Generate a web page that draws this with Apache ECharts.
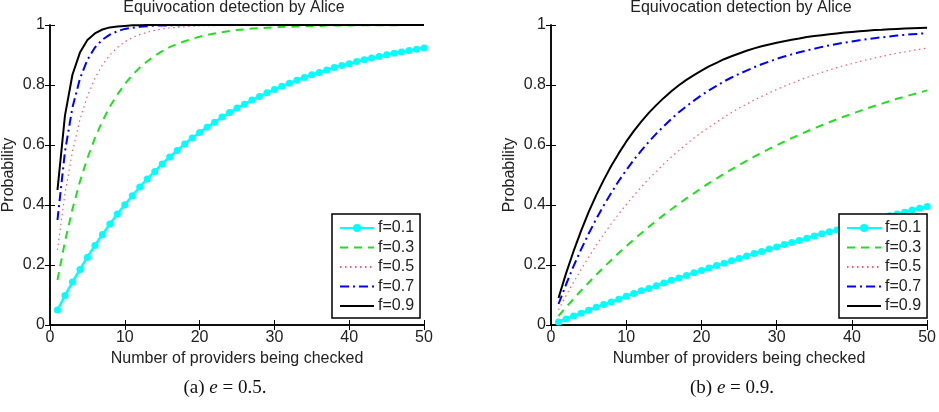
<!DOCTYPE html>
<html>
<head>
<meta charset="utf-8">
<title>Equivocation detection by Alice</title>
<script src="https://cdn.jsdelivr.net/npm/echarts@6/dist/echarts.min.js"></script>
<style>
  html, body { margin: 0; padding: 0; background: #fff; }
  #chart { width: 939px; height: 412px; }
</style>
</head>
<body>
<div id="chart"></div>
<script>
// x: number of providers being checked
const providers = [1, 2, 3, 4, 5, 6, 7, 8, 9, 10, 11, 12, 13, 14, 15, 16, 17, 18, 19, 20,
  21, 22, 23, 24, 25, 26, 27, 28, 29, 30, 31, 32, 33, 34, 35, 36, 37, 38, 39, 40,
  41, 42, 43, 44, 45, 46, 47, 48, 49, 50]

const fNames = ['f=0.1', 'f=0.3', 'f=0.5', 'f=0.7', 'f=0.9']
const xTicks = [0, 10, 20, 30, 40, 50]
const yTicks = [0, 0.2, 0.4, 0.6, 0.8, 1]

// (a) e = 0.5
const e05f01 = [0.050, 0.098, 0.143, 0.185, 0.226, 0.265, 0.302, 0.337, 0.370, 0.401,
  0.431, 0.460, 0.487, 0.512, 0.537, 0.560, 0.582, 0.603, 0.623, 0.642,
  0.659, 0.676, 0.693, 0.708, 0.723, 0.736, 0.750, 0.762, 0.774, 0.785,
  0.796, 0.806, 0.816, 0.825, 0.834, 0.842, 0.850, 0.858, 0.865, 0.871,
  0.878, 0.884, 0.890, 0.895, 0.901, 0.906, 0.910, 0.915, 0.919, 0.923]
const e05f03 = [0.150, 0.278, 0.386, 0.478, 0.556, 0.623, 0.679, 0.728, 0.768, 0.803,
  0.833, 0.858, 0.879, 0.897, 0.913, 0.926, 0.937, 0.946, 0.954, 0.961,
  0.967, 0.972, 0.976, 0.980, 0.983, 0.985, 0.988, 0.989, 0.991, 0.992,
  0.994, 0.994, 0.995, 0.996, 0.997, 0.997, 0.998, 0.998, 0.998, 0.998,
  0.999, 0.999, 0.999, 0.999, 0.999, 0.999, 1.000, 1.000, 1.000, 1.000]
const e05f05 = [0.250, 0.438, 0.578, 0.684, 0.763, 0.822, 0.867, 0.900, 0.925, 0.944,
  0.958, 0.968, 0.976, 0.982, 0.987, 0.990, 0.992, 0.994, 0.996, 0.997,
  0.998, 0.998, 0.999, 0.999, 0.999, 0.999, 1.000, 1.000, 1.000, 1.000,
  1.000, 1.000, 1.000, 1.000, 1.000, 1.000, 1.000, 1.000, 1.000, 1.000,
  1.000, 1.000, 1.000, 1.000, 1.000, 1.000, 1.000, 1.000, 1.000, 1.000]
const e05f07 = [0.350, 0.578, 0.725, 0.821, 0.884, 0.925, 0.951, 0.968, 0.979, 0.987,
  0.991, 0.994, 0.996, 0.998, 0.998, 0.999, 0.999, 1.000, 1.000, 1.000,
  1.000, 1.000, 1.000, 1.000, 1.000, 1.000, 1.000, 1.000, 1.000, 1.000,
  1.000, 1.000, 1.000, 1.000, 1.000, 1.000, 1.000, 1.000, 1.000, 1.000,
  1.000, 1.000, 1.000, 1.000, 1.000, 1.000, 1.000, 1.000, 1.000, 1.000]
const e05f09 = [0.450, 0.698, 0.834, 0.908, 0.950, 0.972, 0.985, 0.992, 0.995, 0.997,
  0.999, 0.999, 1.000, 1.000, 1.000, 1.000, 1.000, 1.000, 1.000, 1.000,
  1.000, 1.000, 1.000, 1.000, 1.000, 1.000, 1.000, 1.000, 1.000, 1.000,
  1.000, 1.000, 1.000, 1.000, 1.000, 1.000, 1.000, 1.000, 1.000, 1.000,
  1.000, 1.000, 1.000, 1.000, 1.000, 1.000, 1.000, 1.000, 1.000, 1.000]

// (b) e = 0.9
const e09f01 = [0.010, 0.020, 0.030, 0.039, 0.049, 0.059, 0.068, 0.077, 0.086, 0.096,
  0.105, 0.114, 0.122, 0.131, 0.140, 0.149, 0.157, 0.165, 0.174, 0.182,
  0.190, 0.198, 0.206, 0.214, 0.222, 0.230, 0.238, 0.245, 0.253, 0.260,
  0.268, 0.275, 0.282, 0.289, 0.297, 0.304, 0.311, 0.317, 0.324, 0.331,
  0.338, 0.344, 0.351, 0.357, 0.364, 0.370, 0.376, 0.383, 0.389, 0.395]
const e09f03 = [0.030, 0.059, 0.087, 0.115, 0.141, 0.167, 0.192, 0.216, 0.240, 0.263,
  0.285, 0.306, 0.327, 0.347, 0.367, 0.386, 0.404, 0.422, 0.439, 0.456,
  0.473, 0.488, 0.504, 0.519, 0.533, 0.547, 0.561, 0.574, 0.587, 0.599,
  0.611, 0.623, 0.634, 0.645, 0.656, 0.666, 0.676, 0.686, 0.695, 0.704,
  0.713, 0.722, 0.730, 0.738, 0.746, 0.754, 0.761, 0.768, 0.775, 0.782]
const e09f05 = [0.050, 0.098, 0.143, 0.185, 0.226, 0.265, 0.302, 0.337, 0.370, 0.401,
  0.431, 0.460, 0.487, 0.512, 0.537, 0.560, 0.582, 0.603, 0.623, 0.642,
  0.659, 0.676, 0.693, 0.708, 0.723, 0.736, 0.750, 0.762, 0.774, 0.785,
  0.796, 0.806, 0.816, 0.825, 0.834, 0.842, 0.850, 0.858, 0.865, 0.871,
  0.878, 0.884, 0.890, 0.895, 0.901, 0.906, 0.910, 0.915, 0.919, 0.923]
const e09f07 = [0.070, 0.135, 0.196, 0.252, 0.304, 0.353, 0.398, 0.440, 0.480, 0.516,
  0.550, 0.581, 0.611, 0.638, 0.663, 0.687, 0.709, 0.729, 0.748, 0.766,
  0.782, 0.797, 0.812, 0.825, 0.837, 0.848, 0.859, 0.869, 0.878, 0.887,
  0.895, 0.902, 0.909, 0.915, 0.921, 0.927, 0.932, 0.937, 0.941, 0.945,
  0.949, 0.953, 0.956, 0.959, 0.962, 0.965, 0.967, 0.969, 0.971, 0.973]
const e09f09 = [0.090, 0.172, 0.246, 0.314, 0.376, 0.432, 0.483, 0.530, 0.572, 0.611,
  0.646, 0.678, 0.707, 0.733, 0.757, 0.779, 0.799, 0.817, 0.833, 0.848,
  0.862, 0.874, 0.886, 0.896, 0.905, 0.914, 0.922, 0.929, 0.935, 0.941,
  0.946, 0.951, 0.955, 0.960, 0.963, 0.966, 0.969, 0.972, 0.975, 0.977,
  0.979, 0.981, 0.983, 0.984, 0.986, 0.987, 0.988, 0.989, 0.990, 0.991]

const FONT = '"Liberation Sans", Arial, Helvetica, sans-serif'
const SERIF = '"Liberation Serif", "Times New Roman", serif'

// matlab-like line styles, one per f
const styles = [
  { color: '#00ffff', width: 2.5, type: 'solid', symbol: 'circle', symbolSize: 7 },
  { color: '#1ee01e', width: 2, type: [8, 6], symbol: 'none' },
  { color: '#f06070', width: 1.2, type: [1.5, 3.5], symbol: 'none' },
  { color: '#0000ff', width: 2, type: [9, 4, 2, 4], symbol: 'none' },
  { color: '#000000', width: 2, type: 'solid', symbol: 'none' }
]

function pairs(ys) {
  return providers.map((x, i) => [x, ys[i]])
}

function makeSeries(idx, ys, s) {
  return {
    name: fNames[s],
    type: 'line',
    xAxisIndex: idx,
    yAxisIndex: idx,
    data: pairs(ys),
    symbol: styles[s].symbol,
    symbolSize: styles[s].symbolSize || 0,
    showSymbol: styles[s].symbol !== 'none',
    itemStyle: { color: styles[s].color },
    lineStyle: { color: styles[s].color, width: styles[s].width, type: styles[s].type },
    animation: false,
    silent: true
  }
}

function xAxes(grid) {
  return [{
    type: 'value', gridIndex: grid, min: xTicks[0], max: xTicks[xTicks.length - 1], interval: 10,
    name: 'Number of providers being checked', nameLocation: 'middle', nameGap: 21,
    nameTextStyle: { fontSize: 16, fontFamily: FONT, color: '#222' },
    axisLine: { lineStyle: { color: '#000', width: 1.5 } },
    axisTick: { inside: true, length: 5, lineStyle: { color: '#000' } },
    axisLabel: { fontSize: 16, fontFamily: FONT, color: '#222', margin: 5 },
    splitLine: { show: false }
  }, {
    type: 'value', gridIndex: grid, position: 'top', min: 0, max: 50, interval: 10,
    axisLine: { lineStyle: { color: '#000', width: 1.5 } },
    axisTick: { inside: true, length: 5, lineStyle: { color: '#000' } },
    axisLabel: { show: false },
    splitLine: { show: false }
  }]
}

function yAxes(grid) {
  return [{
    type: 'value', gridIndex: grid, min: yTicks[0], max: yTicks[yTicks.length - 1], interval: 0.2,
    name: 'Probability', nameLocation: 'middle', nameGap: 33,
    nameTextStyle: { fontSize: 16, fontFamily: FONT, color: '#222' },
    axisLine: { lineStyle: { color: '#000', width: 1.5 } },
    axisTick: { inside: true, length: 5, lineStyle: { color: '#000' } },
    axisLabel: { fontSize: 16, fontFamily: FONT, color: '#222', margin: 5 },
    splitLine: { show: false }
  }, {
    type: 'value', gridIndex: grid, position: 'right', min: 0, max: 1, interval: 0.2,
    axisLine: { lineStyle: { color: '#000', width: 1.5 } },
    axisTick: { inside: true, length: 5, lineStyle: { color: '#000' } },
    axisLabel: { show: false },
    splitLine: { show: false }
  }]
}

// legend entries: only f=0.1 keeps its round marker, the others are plain lines
const hidden = { color: 'rgba(0,0,0,0)', borderColor: 'rgba(0,0,0,0)', borderWidth: 0, opacity: 0 }
const legendData = fNames.map((n, i) => (i === 0 ? { name: n } : { name: n, itemStyle: hidden }))

function legendAt(left, top) {
  return {
    data: legendData,
    orient: 'vertical',
    left: left,
    top: top,
    itemWidth: 34,
    itemHeight: 10,
    itemGap: 3.5,
    padding: [6, 6, 4, 7],
    borderColor: '#000',
    borderWidth: 1.5,
    borderRadius: 0,
    backgroundColor: '#fff',
    selectedMode: false,
    textStyle: { fontSize: 16, fontFamily: FONT, color: '#222', padding: [0, 0, 0, -1] }
  }
}

const chart = echarts.init(document.getElementById('chart'), null, { renderer: 'canvas' })

const xa = xAxes(0), xb = xAxes(1)
const ya = yAxes(0), yb = yAxes(1)

chart.setOption({
  backgroundColor: '#fff',
  animation: false,
  grid: [
    { left: 44, top: 25, width: 380, height: 300, containLabel: false },
    { left: 551, top: 25, width: 380, height: 300, containLabel: false }
  ],
  // primary axes first (0 = left panel, 1 = right panel), mirror axes after
  xAxis: [xa[0], xb[0], xa[1], xb[1]],
  yAxis: [ya[0], yb[0], ya[1], yb[1]],
  legend: [legendAt(332, 214), legendAt(839, 214)],
  series: [
    makeSeries(0, e05f01, 0),
    makeSeries(0, e05f03, 1),
    makeSeries(0, e05f05, 2),
    makeSeries(0, e05f07, 3),
    makeSeries(0, e05f09, 4),
    makeSeries(1, e09f01, 0),
    makeSeries(1, e09f03, 1),
    makeSeries(1, e09f05, 2),
    makeSeries(1, e09f07, 3),
    makeSeries(1, e09f09, 4)
  ],
  graphic: [
    {
      type: 'text', x: 234, y: 8,
      style: { text: 'Equivocation detection by Alice', fontSize: 16, fontFamily: FONT, fill: '#222', align: 'center', verticalAlign: 'middle' }
    },
    {
      type: 'text', x: 741, y: 8,
      style: { text: 'Equivocation detection by Alice', fontSize: 16, fontFamily: FONT, fill: '#222', align: 'center', verticalAlign: 'middle' }
    },
    {
      type: 'text', x: 225, y: 388,
      style: {
        text: '(a) {i|e} = 0.5.', fontSize: 19, fontFamily: SERIF, fill: '#111', align: 'center', verticalAlign: 'middle',
        rich: { i: { fontSize: 19, fontFamily: SERIF, fontStyle: 'italic', fill: '#111' } }
      }
    },
    {
      type: 'text', x: 732, y: 388,
      style: {
        text: '(b) {i|e} = 0.9.', fontSize: 19, fontFamily: SERIF, fill: '#111', align: 'center', verticalAlign: 'middle',
        rich: { i: { fontSize: 19, fontFamily: SERIF, fontStyle: 'italic', fill: '#111' } }
      }
    }
  ]
})
</script>
</body>
</html>
